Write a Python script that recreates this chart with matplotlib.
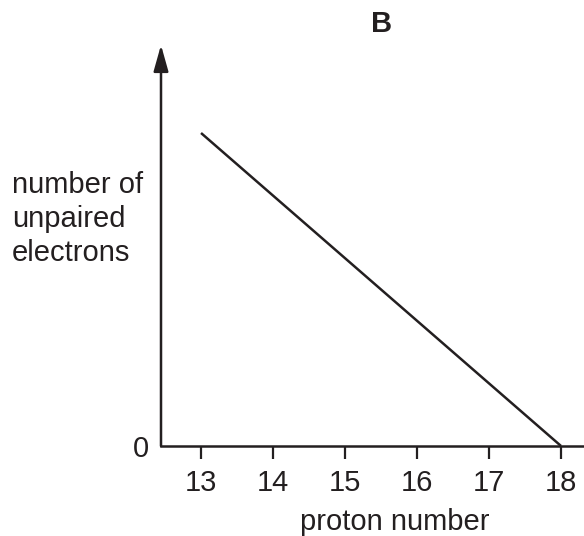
import matplotlib
matplotlib.use("Agg")
import matplotlib.pyplot as plt

plt.rcParams['font.family'] = ['Liberation Sans', 'DejaVu Sans']

# Option B: straight line falling to zero at argon
proton_number = [13, 18]
unpaired = [1, 0]
xticks = [13, 14, 15, 16, 17, 18]

ink = '#231f20'
fs = 21

fig = plt.figure(figsize=(5.84, 5.36), dpi=100)
ax = fig.add_axes([161 / 584, 90 / 536, 1 - 161 / 584, (446 - 45) / 536])

ax.plot(proton_number, unpaired, color=ink, lw=1.8, solid_capstyle='butt')

ax.set_xlim(12.444, 18.319)
ax.set_ylim(0, 1 * 401 / 313)

for s in ['top', 'right', 'left']:
    ax.spines[s].set_visible(False)
ax.spines['bottom'].set_linewidth(1.8)
ax.spines['bottom'].set_color(ink)

# y axis with arrow head
ax.annotate('', xy=(0, 1), xytext=(0, 0), xycoords='axes fraction',
            arrowprops=dict(arrowstyle='-|>,head_length=1.6,head_width=0.45',
                            color=ink, lw=1.8, mutation_scale=10,
                            shrinkA=0, shrinkB=0))

ax.set_xticks(xticks)
ax.set_xticklabels([str(t) for t in xticks])
ax.tick_params(axis='x', length=9.4, width=1.6, color=ink, pad=7,
               labelsize=fs, labelcolor=ink)
ax.set_yticks([])

fig.text(141 / 584, 1 - 449 / 536, '0', fontsize=fs, color=ink,
         ha='center', va='center')
fig.text(395 / 584, 1 - 522 / 536, 'proton number', fontsize=fs, color=ink,
         ha='center', va='center')
fig.text(12 / 584, 1 - 219 / 536, 'number of\nunpaired\nelectrons', fontsize=fs,
         color=ink, ha='left', va='center', linespacing=1.27)
fig.text(382 / 584, 1 - 24 / 536, 'B', fontsize=fs, fontweight='bold', color=ink,
         ha='center', va='center')

fig.savefig('out.png', dpi=100)
